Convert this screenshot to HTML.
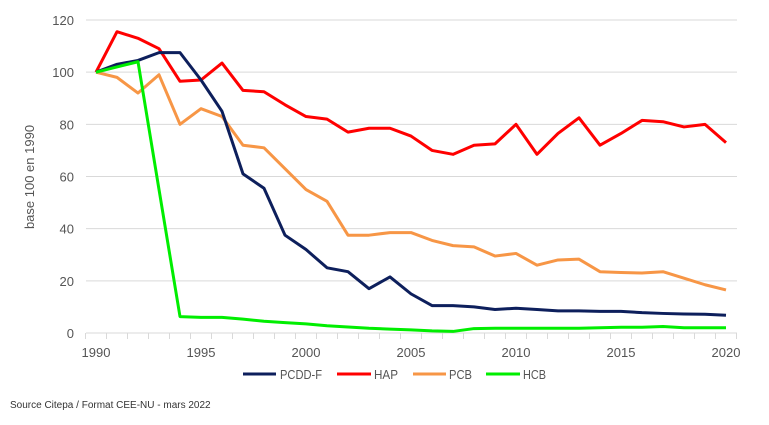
<!DOCTYPE html>
<html><head><meta charset="utf-8"><style>
body{margin:0;background:#fff;}
svg text{font-family:"Liberation Sans",sans-serif;fill:#555;}
</style></head><body>
<svg width="769" height="420" xmlns="http://www.w3.org/2000/svg">
<g id="grid"></g>
<g id="axes"></g>
<g id="series"></g>
<text transform="translate(34,177) rotate(-90)" text-anchor="middle" font-size="13">base 100 en 1990</text>
<g font-size="13">
<g><line x1="243" y1="374" x2="276" y2="374" stroke="#0d1f5c" stroke-width="3"/><text x="280" y="379" textLength="42" lengthAdjust="spacingAndGlyphs">PCDD-F</text></g>
<g><line x1="337" y1="374" x2="371" y2="374" stroke="#ff0000" stroke-width="3"/><text x="374" y="379" textLength="24" lengthAdjust="spacingAndGlyphs">HAP</text></g>
<g><line x1="413" y1="374" x2="446" y2="374" stroke="#f79646" stroke-width="3"/><text x="449" y="379" textLength="23" lengthAdjust="spacingAndGlyphs">PCB</text></g>
<g><line x1="486" y1="374" x2="520" y2="374" stroke="#00ee00" stroke-width="3"/><text x="523" y="379" textLength="23" lengthAdjust="spacingAndGlyphs">HCB</text></g>
</g>
<text x="10" y="408" font-size="10" style="fill:#333">Source Citepa / Format CEE-NU - mars 2022</text>
</svg>
<script>
const years=[];for(let y=1990;y<=2020;y++)years.push(y);
const pcddf=[100,103,104.5,107.5,107.5,97,85,61,55.5,37.5,32,25,23.5,17,21.5,15,10.5,10.5,10,9,9.5,9,8.5,8.5,8.3,8.3,7.8,7.5,7.3,7.2,6.8];
const hap=[100,115.5,113,109,96.5,97,103.5,93,92.5,87.5,83,82,77,78.5,78.5,75.5,70,68.5,72,72.5,80,68.5,76.5,82.5,72,76.5,81.5,81,79,80,73];
const pcb=[100,98,92,99,80,86,83,72,71,63,55,50.5,37.5,37.5,38.5,38.5,35.5,33.5,33,29.5,30.5,26,28,28.3,23.5,23.2,23,23.5,21,18.5,16.5];
const hcb=[100,102,104,55,6.3,6,6,5.3,4.5,4,3.5,2.8,2.3,1.8,1.5,1.2,0.8,0.6,1.7,1.8,1.8,1.8,1.8,1.8,2,2.2,2.2,2.5,2,2,2];
const yTicks=[0,20,40,60,80,100,120];
const xLabels=[1990,1995,2000,2005,2010,2015,2020];
const NS="http://www.w3.org/2000/svg";
const xs=y=>96+(y-1990)*21;
const ys=v=>333-v*(313/120);
function mk(t,a,p){const e=document.createElementNS(NS,t);for(const k in a)e.setAttribute(k,a[k]);p.appendChild(e);return e;}
const grid=document.getElementById('grid'),axes=document.getElementById('axes'),ser=document.getElementById('series');
yTicks.forEach(v=>{
 if(v>0){const l=mk('line',{x1:86,x2:737,y1:ys(v),y2:ys(v),stroke:'#d9d9d9','stroke-width':1},grid);
 
 }
 const t=mk('text',{x:74,y:ys(v)+5,'text-anchor':'end','font-size':13},axes);t.textContent=v;
 
 
});
const ax=mk('line',{x1:86,x2:737,y1:333,y2:333,stroke:'#d9d9d9','stroke-width':1},axes);


for(let y=1989.5;y<=2020.6;y++){const tk=mk('line',{x1:xs(y),x2:xs(y),y1:333,y2:339,stroke:'#d9d9d9'},axes);
 
 }
xLabels.forEach(y=>{const t=mk('text',{x:xs(y),y:357,'text-anchor':'middle','font-size':13},axes);t.textContent=y;
 
 });
function line(data,color,name){const p=mk('polyline',{points:data.map((v,i)=>xs(years[i])+','+ys(v)).join(' '),fill:'none',stroke:color,'stroke-width':3,'stroke-linejoin':'round'},ser);
 
 }
line(pcb,'#f79646','line-pcb');
line(hap,'#ff0000','line-hap');
line(pcddf,'#0d1f5c','line-pcdd-f');
line(hcb,'#00ee00','line-hcb');
</script>
</body></html>
